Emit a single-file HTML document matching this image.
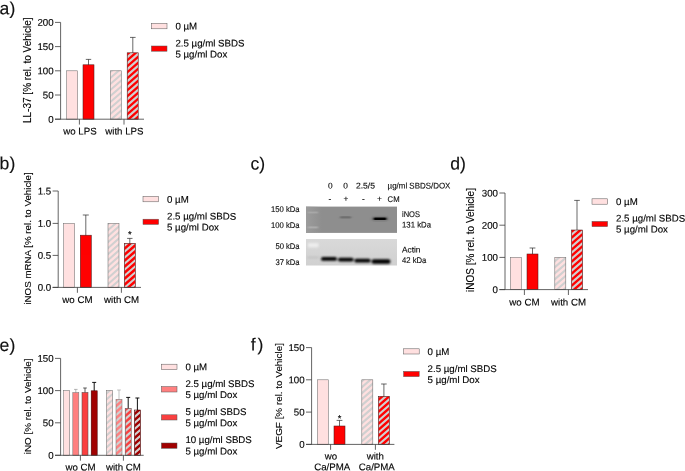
<!DOCTYPE html>
<html><head><meta charset="utf-8"><title>Figure</title>
<style>
html,body{margin:0;padding:0;background:#fff;}
body{width:685px;height:471px;overflow:hidden;}
svg{display:block;font-family:"Liberation Sans", Arial, sans-serif;fill:#000;}
svg text{white-space:pre;stroke:#000;stroke-width:0.14px;}
</style></head><body>
<svg style="opacity:0.999;will-change:transform" width="685" height="471" viewBox="0 0 685 471">
<defs>
<filter id="b1" x="-20%" y="-100%" width="140%" height="300%"><feGaussianBlur stdDeviation="0.9 0.6"/></filter>
<filter id="b2" x="-20%" y="-100%" width="140%" height="300%"><feGaussianBlur stdDeviation="1.0 0.8"/></filter>
<linearGradient id="gl" x1="0" y1="0" x2="1" y2="0"><stop offset="0" stop-color="#9c9c9c"/><stop offset="1" stop-color="#9c9c9c" stop-opacity="0"/></linearGradient>
<linearGradient id="g1" x1="0" y1="0" x2="0" y2="1"><stop offset="0" stop-color="#8d8d8d"/><stop offset="1" stop-color="#828282"/></linearGradient>
<linearGradient id="g2" x1="0" y1="0" x2="0" y2="1"><stop offset="0" stop-color="#d9d9d9"/><stop offset="1" stop-color="#d0d0d0"/></linearGradient>
</defs>
<text x="-0.40" y="14.20" transform="rotate(0.03 -0.40 14.20)" font-size="17.6" text-anchor="start" fill="#111">a)</text>
<text x="-0.40" y="169.20" transform="rotate(0.03 -0.40 169.20)" font-size="17.6" text-anchor="start" fill="#111">b)</text>
<text x="250.50" y="169.40" transform="rotate(0.03 250.50 169.40)" font-size="17.6" text-anchor="start" fill="#111">c)</text>
<text x="450.20" y="169.40" transform="rotate(0.03 450.20 169.40)" font-size="17.6" text-anchor="start" fill="#111">d)</text>
<text x="-0.40" y="351.00" transform="rotate(0.03 -0.40 351.00)" font-size="17.6" text-anchor="start" fill="#111">e)</text>
<text x="250.80" y="350.40" transform="rotate(0.03 250.80 350.40)" font-size="17.6" text-anchor="start" fill="#111">f<tspan dx="1.8">)</tspan></text>
<text x="53.60" y="25.85" transform="rotate(0.03 53.60 25.85)" font-size="9.7" text-anchor="end" >200</text>
<text x="53.60" y="50.05" transform="rotate(0.03 53.60 50.05)" font-size="9.7" text-anchor="end" >150</text>
<text x="53.60" y="74.25" transform="rotate(0.03 53.60 74.25)" font-size="9.7" text-anchor="end" >100</text>
<text x="53.60" y="98.45" transform="rotate(0.03 53.60 98.45)" font-size="9.7" text-anchor="end" >50</text>
<text x="53.60" y="122.65" transform="rotate(0.03 53.60 122.65)" font-size="9.7" text-anchor="end" >0</text>
<text transform="translate(30.70,123.00) rotate(-90)" font-size="10.0" >LL-37 [% rel. to Vehicle]</text>
<rect x="66.60" y="70.80" width="11.00" height="48.40" fill="#ffe0e0" stroke="#6e6e6e" stroke-width="0.55"/>
<path d="M88.50 65.00V59.40M85.80 59.40H91.20" stroke="#2a2a2a" stroke-width="0.7" fill="none"/>
<rect x="83.00" y="64.80" width="11.00" height="54.40" fill="#ff0000" stroke="#4a2020" stroke-width="0.55"/>
<clipPath id="c1"><rect x="110.40" y="70.80" width="11.00" height="48.40"/></clipPath>
<rect x="110.40" y="70.80" width="11.00" height="48.40" fill="#ffe0e0"/>
<path d="M109.40 60.82L122.40 49.51M109.40 66.82L122.40 55.51M109.40 72.82L122.40 61.51M109.40 78.82L122.40 67.51M109.40 84.82L122.40 73.51M109.40 90.82L122.40 79.51M109.40 96.82L122.40 85.51M109.40 102.82L122.40 91.51M109.40 108.82L122.40 97.51M109.40 114.82L122.40 103.51M109.40 120.82L122.40 109.51M109.40 126.82L122.40 115.51M109.40 132.82L122.40 121.51M109.40 138.82L122.40 127.51" stroke="#d0d0d0" stroke-width="2.1" fill="none" clip-path="url(#c1)"/>
<rect x="110.40" y="70.80" width="11.00" height="48.40" fill="none" stroke="#6e6e6e" stroke-width="0.55"/>
<path d="M132.80 53.00V37.40M130.00 37.40H135.60" stroke="#2a2a2a" stroke-width="0.7" fill="none"/>
<clipPath id="c2"><rect x="127.20" y="52.80" width="11.00" height="66.40"/></clipPath>
<rect x="127.20" y="52.80" width="11.00" height="66.40" fill="#ff0000"/>
<path d="M126.20 46.21L139.20 34.90M126.20 52.21L139.20 40.90M126.20 58.21L139.20 46.90M126.20 64.21L139.20 52.90M126.20 70.21L139.20 58.90M126.20 76.21L139.20 64.90M126.20 82.21L139.20 70.90M126.20 88.21L139.20 76.90M126.20 94.21L139.20 82.90M126.20 100.21L139.20 88.90M126.20 106.21L139.20 94.90M126.20 112.21L139.20 100.90M126.20 118.21L139.20 106.90M126.20 124.21L139.20 112.90M126.20 130.21L139.20 118.90M126.20 136.21L139.20 124.90M126.20 142.21L139.20 130.90" stroke="#d0d0d0" stroke-width="2.1" fill="none" clip-path="url(#c2)"/>
<rect x="127.20" y="52.80" width="11.00" height="66.40" fill="none" stroke="#4a2020" stroke-width="0.55"/>
<text x="80.00" y="134.60" transform="rotate(0.03 80.00 134.60)" font-size="9.7" text-anchor="middle" >wo LPS</text>
<text x="124.40" y="134.60" transform="rotate(0.03 124.40 134.60)" font-size="9.7" text-anchor="middle" >with LPS</text>
<rect x="151.40" y="23.40" width="15.60" height="5.40" fill="#ffe0e0" stroke="#555" stroke-width="0.5"/>
<text x="175.40" y="29.60" transform="rotate(0.03 175.40 29.60)" font-size="9.7" text-anchor="start" >0 µM</text>
<rect x="151.40" y="46.00" width="15.60" height="5.20" fill="#ff0000" stroke="#555" stroke-width="0.5"/>
<text x="175.40" y="46.40" transform="rotate(0.03 175.40 46.40)" font-size="9.7" text-anchor="start" >2.5 µg/ml SBDS</text>
<text x="175.40" y="57.40" transform="rotate(0.03 175.40 57.40)" font-size="9.7" text-anchor="start" >5 µg/ml Dox</text>
<text x="51.20" y="194.45" transform="rotate(0.03 51.20 194.45)" font-size="9.7" text-anchor="end" >1.5</text>
<text x="51.20" y="226.85" transform="rotate(0.03 51.20 226.85)" font-size="9.7" text-anchor="end" >1.0</text>
<text x="51.20" y="258.85" transform="rotate(0.03 51.20 258.85)" font-size="9.7" text-anchor="end" >0.5</text>
<text x="51.20" y="290.85" transform="rotate(0.03 51.20 290.85)" font-size="9.7" text-anchor="end" >0.0</text>
<text transform="translate(30.70,304.60) rotate(-90)" font-size="9.75" >iNOS mRNA [% rel. to Vehicle]</text>
<rect x="63.60" y="223.40" width="11.00" height="64.00" fill="#ffe0e0" stroke="#6e6e6e" stroke-width="0.55"/>
<path d="M85.80 236.00V215.00M82.80 215.00H88.80" stroke="#2a2a2a" stroke-width="0.7" fill="none"/>
<rect x="80.30" y="235.20" width="11.00" height="52.20" fill="#ff0000" stroke="#4a2020" stroke-width="0.55"/>
<clipPath id="c3"><rect x="108.00" y="223.40" width="11.00" height="64.00"/></clipPath>
<rect x="108.00" y="223.40" width="11.00" height="64.00" fill="#ffe0e0"/>
<path d="M107.00 212.91L120.00 201.60M107.00 218.91L120.00 207.60M107.00 224.91L120.00 213.60M107.00 230.91L120.00 219.60M107.00 236.91L120.00 225.60M107.00 242.91L120.00 231.60M107.00 248.91L120.00 237.60M107.00 254.91L120.00 243.60M107.00 260.91L120.00 249.60M107.00 266.91L120.00 255.60M107.00 272.91L120.00 261.60M107.00 278.91L120.00 267.60M107.00 284.91L120.00 273.60M107.00 290.91L120.00 279.60M107.00 296.91L120.00 285.60M107.00 302.91L120.00 291.60M107.00 308.91L120.00 297.60" stroke="#d0d0d0" stroke-width="2.1" fill="none" clip-path="url(#c3)"/>
<rect x="108.00" y="223.40" width="11.00" height="64.00" fill="none" stroke="#6e6e6e" stroke-width="0.55"/>
<path d="M129.80 244.00V238.40M127.10 238.40H132.50" stroke="#2a2a2a" stroke-width="0.7" fill="none"/>
<clipPath id="c4"><rect x="124.30" y="243.40" width="11.00" height="44.00"/></clipPath>
<rect x="124.30" y="243.40" width="11.00" height="44.00" fill="#ff0000"/>
<path d="M123.30 234.73L136.30 223.42M123.30 240.73L136.30 229.42M123.30 246.73L136.30 235.42M123.30 252.73L136.30 241.42M123.30 258.73L136.30 247.42M123.30 264.73L136.30 253.42M123.30 270.73L136.30 259.42M123.30 276.73L136.30 265.42M123.30 282.73L136.30 271.42M123.30 288.73L136.30 277.42M123.30 294.73L136.30 283.42M123.30 300.73L136.30 289.42M123.30 306.73L136.30 295.42" stroke="#d0d0d0" stroke-width="2.1" fill="none" clip-path="url(#c4)"/>
<rect x="124.30" y="243.40" width="11.00" height="44.00" fill="none" stroke="#4a2020" stroke-width="0.55"/>
<text x="129.80" y="237.60" transform="rotate(0.03 129.80 237.60)" font-size="9.3" text-anchor="middle" stroke="#000" stroke-width="0.3">*</text>
<text x="77.40" y="303.00" transform="rotate(0.03 77.40 303.00)" font-size="9.7" text-anchor="middle" >wo CM</text>
<text x="121.60" y="303.00" transform="rotate(0.03 121.60 303.00)" font-size="9.7" text-anchor="middle" >with CM</text>
<rect x="143.00" y="196.40" width="15.60" height="5.40" fill="#ffe0e0" stroke="#555" stroke-width="0.5"/>
<text x="167.00" y="202.80" transform="rotate(0.03 167.00 202.80)" font-size="9.7" text-anchor="start" >0 µM</text>
<rect x="143.00" y="219.20" width="15.60" height="5.20" fill="#ff0000" stroke="#555" stroke-width="0.5"/>
<text x="167.00" y="219.60" transform="rotate(0.03 167.00 219.60)" font-size="9.7" text-anchor="start" >2.5 µg/ml SBDS</text>
<text x="167.00" y="230.60" transform="rotate(0.03 167.00 230.60)" font-size="9.7" text-anchor="start" >5 µg/ml Dox</text>
<text x="328.00" y="188.60" transform="rotate(0.03 328.00 188.60)" font-size="8.3" text-anchor="start"  fill="#111" stroke="#111" stroke-width="0.18">0</text>
<text x="343.20" y="188.60" transform="rotate(0.03 343.20 188.60)" font-size="8.3" text-anchor="start"  fill="#111" stroke="#111" stroke-width="0.18">0</text>
<text x="356.00" y="188.60" transform="rotate(0.03 356.00 188.60)" font-size="8.3" text-anchor="start" textLength="19" lengthAdjust="spacingAndGlyphs" fill="#111" stroke="#111" stroke-width="0.18">2.5/5</text>
<text x="387.60" y="188.60" transform="rotate(0.03 387.60 188.60)" font-size="8.3" text-anchor="start" textLength="62.8" lengthAdjust="spacingAndGlyphs" fill="#111" stroke="#111" stroke-width="0.18">µg/ml SBDS/DOX</text>
<text x="328.40" y="201.60" transform="rotate(0.03 328.40 201.60)" font-size="8.3" text-anchor="start"  fill="#111" stroke="#111" stroke-width="0.18">-</text>
<text x="343.40" y="201.60" transform="rotate(0.03 343.40 201.60)" font-size="8.3" text-anchor="start"  fill="#111" stroke="#111" stroke-width="0.18">+</text>
<text x="362.00" y="201.60" transform="rotate(0.03 362.00 201.60)" font-size="8.3" text-anchor="start"  fill="#111" stroke="#111" stroke-width="0.18">-</text>
<text x="377.00" y="201.60" transform="rotate(0.03 377.00 201.60)" font-size="8.3" text-anchor="start"  fill="#111" stroke="#111" stroke-width="0.18">+</text>
<text x="387.60" y="201.60" transform="rotate(0.03 387.60 201.60)" font-size="8.3" text-anchor="start" textLength="12" lengthAdjust="spacingAndGlyphs" fill="#111" stroke="#111" stroke-width="0.18">CM</text>
<text x="299.60" y="212.00" transform="rotate(0.03 299.60 212.00)" font-size="8.3" text-anchor="end" textLength="28.6" lengthAdjust="spacingAndGlyphs" fill="#111" stroke="#111" stroke-width="0.18">150 kDa</text>
<text x="299.60" y="227.60" transform="rotate(0.03 299.60 227.60)" font-size="8.3" text-anchor="end" textLength="28.6" lengthAdjust="spacingAndGlyphs" fill="#111" stroke="#111" stroke-width="0.18">100 kDa</text>
<text x="299.60" y="248.60" transform="rotate(0.03 299.60 248.60)" font-size="8.3" text-anchor="end" textLength="24.2" lengthAdjust="spacingAndGlyphs" fill="#111" stroke="#111" stroke-width="0.18">50 kDa</text>
<text x="299.60" y="265.00" transform="rotate(0.03 299.60 265.00)" font-size="8.3" text-anchor="end" textLength="24.2" lengthAdjust="spacingAndGlyphs" fill="#111" stroke="#111" stroke-width="0.18">37 kDa</text>
<text x="402.00" y="217.00" transform="rotate(0.03 402.00 217.00)" font-size="8.3" text-anchor="start" textLength="18" lengthAdjust="spacingAndGlyphs" fill="#111" stroke="#111" stroke-width="0.18">iNOS</text>
<text x="402.00" y="227.60" transform="rotate(0.03 402.00 227.60)" font-size="8.3" text-anchor="start" textLength="29" lengthAdjust="spacingAndGlyphs" fill="#111" stroke="#111" stroke-width="0.18">131 kDa</text>
<text x="402.00" y="252.60" transform="rotate(0.03 402.00 252.60)" font-size="8.3" text-anchor="start" textLength="18.4" lengthAdjust="spacingAndGlyphs" fill="#111" stroke="#111" stroke-width="0.18">Actin</text>
<text x="402.00" y="262.60" transform="rotate(0.03 402.00 262.60)" font-size="8.3" text-anchor="start" textLength="24.4" lengthAdjust="spacingAndGlyphs" fill="#111" stroke="#111" stroke-width="0.18">42 kDa</text>
<rect x="306" y="206.6" width="91" height="26.3" fill="#8e8e8e"/>
<rect x="306" y="206.6" width="16" height="26.3" fill="url(#gl)"/>
<g filter="url(#b1)">
<rect x="308" y="211.6" width="10" height="1.8" fill="#b4b4b4" opacity="0.6"/>
<rect x="308" y="226.4" width="10" height="2" fill="#b8b8b8" opacity="0.65"/>
<rect x="339.8" y="216.3" width="11.6" height="2.2" rx="1.1" fill="#5a5a5a" opacity="0.6"/>
<rect x="371.5" y="215.8" width="17" height="6" rx="3" fill="#666" opacity="0.35"/>
<rect x="373.2" y="217.5" width="13.6" height="2.4" rx="1.2" fill="#050505"/>
</g>
<rect x="306" y="239" width="91" height="26.5" fill="url(#g2)"/>
<g filter="url(#b2)">
<rect x="308" y="243" width="10.5" height="4.4" fill="#f0f0f0" opacity="0.9"/>
<rect x="307" y="257" width="12" height="0.9" fill="#8a8a8a" opacity="0.45"/>
<rect x="321" y="257" width="16" height="3.8" rx="1.9" fill="#030303"/>
<rect x="338" y="257.7" width="15.6" height="3.8" rx="1.9" fill="#030303"/>
<rect x="354.4" y="258.8" width="16.2" height="3.8" rx="1.9" fill="#030303"/>
<rect x="371.5" y="259.2" width="19" height="4.6" rx="2.3" fill="#000"/>
</g>
<text x="498.00" y="196.45" transform="rotate(0.03 498.00 196.45)" font-size="9.7" text-anchor="end" >300</text>
<text x="498.00" y="228.65" transform="rotate(0.03 498.00 228.65)" font-size="9.7" text-anchor="end" >200</text>
<text x="498.00" y="260.85" transform="rotate(0.03 498.00 260.85)" font-size="9.7" text-anchor="end" >100</text>
<text x="498.00" y="293.05" transform="rotate(0.03 498.00 293.05)" font-size="9.7" text-anchor="end" >0</text>
<text transform="translate(474.20,292.00) rotate(-90)" font-size="10.0" >iNOS [% rel. to Vehicle]</text>
<rect x="510.40" y="257.40" width="11.00" height="32.20" fill="#ffe0e0" stroke="#6e6e6e" stroke-width="0.55"/>
<path d="M532.50 255.00V248.00M529.60 248.00H535.40" stroke="#2a2a2a" stroke-width="0.7" fill="none"/>
<rect x="527.00" y="254.00" width="11.00" height="35.60" fill="#ff0000" stroke="#4a2020" stroke-width="0.55"/>
<clipPath id="c5"><rect x="554.80" y="257.40" width="11.00" height="32.20"/></clipPath>
<rect x="554.80" y="257.40" width="11.00" height="32.20" fill="#ffe0e0"/>
<path d="M553.80 250.19L566.80 238.88M553.80 256.19L566.80 244.88M553.80 262.19L566.80 250.88M553.80 268.19L566.80 256.88M553.80 274.19L566.80 262.88M553.80 280.19L566.80 268.88M553.80 286.19L566.80 274.88M553.80 292.19L566.80 280.88M553.80 298.19L566.80 286.88M553.80 304.19L566.80 292.88M553.80 310.19L566.80 298.88" stroke="#d0d0d0" stroke-width="2.1" fill="none" clip-path="url(#c5)"/>
<rect x="554.80" y="257.40" width="11.00" height="32.20" fill="none" stroke="#6e6e6e" stroke-width="0.55"/>
<path d="M577.00 231.00V200.40M574.20 200.40H579.80" stroke="#2a2a2a" stroke-width="0.7" fill="none"/>
<clipPath id="c6"><rect x="571.50" y="230.00" width="11.00" height="59.60"/></clipPath>
<rect x="571.50" y="230.00" width="11.00" height="59.60" fill="#ff0000"/>
<path d="M570.50 223.67L583.50 212.36M570.50 229.67L583.50 218.36M570.50 235.67L583.50 224.36M570.50 241.67L583.50 230.36M570.50 247.67L583.50 236.36M570.50 253.67L583.50 242.36M570.50 259.67L583.50 248.36M570.50 265.67L583.50 254.36M570.50 271.67L583.50 260.36M570.50 277.67L583.50 266.36M570.50 283.67L583.50 272.36M570.50 289.67L583.50 278.36M570.50 295.67L583.50 284.36M570.50 301.67L583.50 290.36M570.50 307.67L583.50 296.36" stroke="#d0d0d0" stroke-width="2.1" fill="none" clip-path="url(#c6)"/>
<rect x="571.50" y="230.00" width="11.00" height="59.60" fill="none" stroke="#4a2020" stroke-width="0.55"/>
<text x="524.40" y="305.40" transform="rotate(0.03 524.40 305.40)" font-size="9.7" text-anchor="middle" >wo CM</text>
<text x="568.50" y="305.40" transform="rotate(0.03 568.50 305.40)" font-size="9.7" text-anchor="middle" >with CM</text>
<rect x="592.00" y="198.80" width="15.60" height="5.40" fill="#ffe0e0" stroke="#555" stroke-width="0.5"/>
<text x="616.00" y="205.00" transform="rotate(0.03 616.00 205.00)" font-size="9.7" text-anchor="start" >0 µM</text>
<rect x="592.00" y="221.40" width="15.60" height="5.20" fill="#ff0000" stroke="#555" stroke-width="0.5"/>
<text x="616.00" y="221.60" transform="rotate(0.03 616.00 221.60)" font-size="9.7" text-anchor="start" >2.5 µg/ml SBDS</text>
<text x="616.00" y="232.60" transform="rotate(0.03 616.00 232.60)" font-size="9.7" text-anchor="start" >5 µg/ml Dox</text>
<text x="53.60" y="361.85" transform="rotate(0.03 53.60 361.85)" font-size="9.7" text-anchor="end" >150</text>
<text x="53.60" y="394.05" transform="rotate(0.03 53.60 394.05)" font-size="9.7" text-anchor="end" >100</text>
<text x="53.60" y="426.25" transform="rotate(0.03 53.60 426.25)" font-size="9.7" text-anchor="end" >50</text>
<text x="53.60" y="458.75" transform="rotate(0.03 53.60 458.75)" font-size="9.7" text-anchor="end" >0</text>
<text transform="translate(30.70,454.20) rotate(-90)" font-size="9.85" >iNO [% rel. to Vehicle]</text>
<rect x="63.60" y="390.60" width="6.00" height="64.70" fill="#ffe0e0" stroke="#6e6e6e" stroke-width="0.55"/>
<path d="M75.80 393.00V389.40M74.00 389.40H77.60" stroke="#888" stroke-width="0.6" fill="none"/>
<rect x="72.80" y="392.60" width="6.00" height="62.70" fill="#ff8080" stroke="#777" stroke-width="0.55"/>
<path d="M85.00 393.00V388.00M83.20 388.00H86.80" stroke="#333" stroke-width="0.8" fill="none"/>
<rect x="82.00" y="392.40" width="6.00" height="62.90" fill="#fa4040" stroke="#555" stroke-width="0.55"/>
<path d="M94.20 391.00V382.40M92.20 382.40H96.20" stroke="#111" stroke-width="1.0" fill="none"/>
<rect x="91.20" y="390.80" width="6.00" height="64.50" fill="#a00000" stroke="#400" stroke-width="0.55"/>
<clipPath id="c7"><rect x="106.60" y="390.60" width="6.00" height="64.70"/></clipPath>
<rect x="106.60" y="390.60" width="6.00" height="64.70" fill="#ffe0e0"/>
<path d="M105.60 382.13L113.60 375.17M105.60 388.13L113.60 381.17M105.60 394.13L113.60 387.17M105.60 400.13L113.60 393.17M105.60 406.13L113.60 399.17M105.60 412.13L113.60 405.17M105.60 418.13L113.60 411.17M105.60 424.13L113.60 417.17M105.60 430.13L113.60 423.17M105.60 436.13L113.60 429.17M105.60 442.13L113.60 435.17M105.60 448.13L113.60 441.17M105.60 454.13L113.60 447.17M105.60 460.13L113.60 453.17M105.60 466.13L113.60 459.17M105.60 472.13L113.60 465.17" stroke="#d0d0d0" stroke-width="2.1" fill="none" clip-path="url(#c7)"/>
<rect x="106.60" y="390.60" width="6.00" height="64.70" fill="none" stroke="#6e6e6e" stroke-width="0.55"/>
<path d="M119.00 400.00V390.00M117.10 390.00H120.90" stroke="#a8a8a8" stroke-width="0.7" fill="none"/>
<clipPath id="c8"><rect x="116.00" y="399.40" width="6.00" height="55.90"/></clipPath>
<rect x="116.00" y="399.40" width="6.00" height="55.90" fill="#ff8080"/>
<path d="M115.00 391.95L123.00 384.99M115.00 397.95L123.00 390.99M115.00 403.95L123.00 396.99M115.00 409.95L123.00 402.99M115.00 415.95L123.00 408.99M115.00 421.95L123.00 414.99M115.00 427.95L123.00 420.99M115.00 433.95L123.00 426.99M115.00 439.95L123.00 432.99M115.00 445.95L123.00 438.99M115.00 451.95L123.00 444.99M115.00 457.95L123.00 450.99M115.00 463.95L123.00 456.99M115.00 469.95L123.00 462.99" stroke="#d0d0d0" stroke-width="2.1" fill="none" clip-path="url(#c8)"/>
<rect x="116.00" y="399.40" width="6.00" height="55.90" fill="none" stroke="#777" stroke-width="0.55"/>
<path d="M128.20 409.00V397.40M126.20 397.40H130.20" stroke="#111" stroke-width="1.0" fill="none"/>
<clipPath id="c9"><rect x="125.20" y="408.40" width="6.00" height="46.90"/></clipPath>
<rect x="125.20" y="408.40" width="6.00" height="46.90" fill="#fa4040"/>
<path d="M124.20 401.95L132.20 394.99M124.20 407.95L132.20 400.99M124.20 413.95L132.20 406.99M124.20 419.95L132.20 412.99M124.20 425.95L132.20 418.99M124.20 431.95L132.20 424.99M124.20 437.95L132.20 430.99M124.20 443.95L132.20 436.99M124.20 449.95L132.20 442.99M124.20 455.95L132.20 448.99M124.20 461.95L132.20 454.99M124.20 467.95L132.20 460.99M124.20 473.95L132.20 466.99" stroke="#d0d0d0" stroke-width="2.1" fill="none" clip-path="url(#c9)"/>
<rect x="125.20" y="408.40" width="6.00" height="46.90" fill="none" stroke="#555" stroke-width="0.55"/>
<path d="M137.40 411.00V398.00M135.40 398.00H139.40" stroke="#111" stroke-width="1.0" fill="none"/>
<clipPath id="c10"><rect x="134.40" y="410.00" width="6.00" height="45.30"/></clipPath>
<rect x="134.40" y="410.00" width="6.00" height="45.30" fill="#a00000"/>
<path d="M133.40 399.94L141.40 392.98M133.40 405.94L141.40 398.98M133.40 411.94L141.40 404.98M133.40 417.94L141.40 410.98M133.40 423.94L141.40 416.98M133.40 429.94L141.40 422.98M133.40 435.94L141.40 428.98M133.40 441.94L141.40 434.98M133.40 447.94L141.40 440.98M133.40 453.94L141.40 446.98M133.40 459.94L141.40 452.98M133.40 465.94L141.40 458.98M133.40 471.94L141.40 464.98" stroke="#d0d0d0" stroke-width="2.1" fill="none" clip-path="url(#c10)"/>
<rect x="134.40" y="410.00" width="6.00" height="45.30" fill="none" stroke="#400" stroke-width="0.55"/>
<text x="80.60" y="470.60" transform="rotate(0.03 80.60 470.60)" font-size="9.7" text-anchor="middle" >wo CM</text>
<text x="123.40" y="470.60" transform="rotate(0.03 123.40 470.60)" font-size="9.7" text-anchor="middle" >with CM</text>
<rect x="161.40" y="364.20" width="15.60" height="5.40" fill="#ffe0e0" stroke="#555" stroke-width="0.5"/>
<text x="185.40" y="370.20" transform="rotate(0.03 185.40 370.20)" font-size="9.7" text-anchor="start" >0 µM</text>
<rect x="161.40" y="386.60" width="15.60" height="5.40" fill="#ff8080" stroke="#555" stroke-width="0.5"/>
<text x="185.40" y="387.00" transform="rotate(0.03 185.40 387.00)" font-size="9.7" text-anchor="start" >2.5 µg/ml SBDS</text>
<text x="185.40" y="398.00" transform="rotate(0.03 185.40 398.00)" font-size="9.7" text-anchor="start" >5 µg/ml Dox</text>
<rect x="161.40" y="414.80" width="15.60" height="5.20" fill="#fa4040" stroke="#555" stroke-width="0.5"/>
<text x="185.40" y="415.00" transform="rotate(0.03 185.40 415.00)" font-size="9.7" text-anchor="start" >5 µg/ml SBDS</text>
<text x="185.40" y="426.20" transform="rotate(0.03 185.40 426.20)" font-size="9.7" text-anchor="start" >5 µg/ml Dox</text>
<rect x="161.40" y="443.00" width="15.60" height="5.30" fill="#a00000" stroke="#555" stroke-width="0.5"/>
<text x="185.40" y="443.00" transform="rotate(0.03 185.40 443.00)" font-size="9.7" text-anchor="start" >10 µg/ml SBDS</text>
<text x="185.40" y="454.40" transform="rotate(0.03 185.40 454.40)" font-size="9.7" text-anchor="start" >5 µg/ml Dox</text>
<text x="304.60" y="351.05" transform="rotate(0.03 304.60 351.05)" font-size="9.7" text-anchor="end" >150</text>
<text x="304.60" y="383.25" transform="rotate(0.03 304.60 383.25)" font-size="9.7" text-anchor="end" >100</text>
<text x="304.60" y="415.55" transform="rotate(0.03 304.60 415.55)" font-size="9.7" text-anchor="end" >50</text>
<text x="304.60" y="447.85" transform="rotate(0.03 304.60 447.85)" font-size="9.7" text-anchor="end" >0</text>
<text transform="translate(281.70,449.00) rotate(-90)" font-size="9.9" >VEGF [% rel. to Vehicle]</text>
<rect x="317.40" y="379.80" width="11.00" height="64.60" fill="#ffe0e0" stroke="#6e6e6e" stroke-width="0.55"/>
<path d="M339.50 427.00V420.40M336.60 420.40H342.40" stroke="#2a2a2a" stroke-width="0.7" fill="none"/>
<rect x="334.00" y="426.00" width="11.00" height="18.40" fill="#ff0000" stroke="#4a2020" stroke-width="0.55"/>
<text x="339.50" y="421.40" transform="rotate(0.03 339.50 421.40)" font-size="9.3" text-anchor="middle" stroke="#000" stroke-width="0.3">*</text>
<clipPath id="c11"><rect x="361.80" y="379.80" width="11.00" height="64.60"/></clipPath>
<rect x="361.80" y="379.80" width="11.00" height="64.60" fill="#ffe0e0"/>
<path d="M360.80 370.10L373.80 358.79M360.80 376.10L373.80 364.79M360.80 382.10L373.80 370.79M360.80 388.10L373.80 376.79M360.80 394.10L373.80 382.79M360.80 400.10L373.80 388.79M360.80 406.10L373.80 394.79M360.80 412.10L373.80 400.79M360.80 418.10L373.80 406.79M360.80 424.10L373.80 412.79M360.80 430.10L373.80 418.79M360.80 436.10L373.80 424.79M360.80 442.10L373.80 430.79M360.80 448.10L373.80 436.79M360.80 454.10L373.80 442.79M360.80 460.10L373.80 448.79M360.80 466.10L373.80 454.79" stroke="#d0d0d0" stroke-width="2.1" fill="none" clip-path="url(#c11)"/>
<rect x="361.80" y="379.80" width="11.00" height="64.60" fill="none" stroke="#6e6e6e" stroke-width="0.55"/>
<path d="M383.90 397.00V384.00M381.10 384.00H386.70" stroke="#2a2a2a" stroke-width="0.7" fill="none"/>
<clipPath id="c12"><rect x="378.40" y="396.30" width="11.00" height="48.10"/></clipPath>
<rect x="378.40" y="396.30" width="11.00" height="48.10" fill="#ff0000"/>
<path d="M377.40 385.66L390.40 374.35M377.40 391.66L390.40 380.35M377.40 397.66L390.40 386.35M377.40 403.66L390.40 392.35M377.40 409.66L390.40 398.35M377.40 415.66L390.40 404.35M377.40 421.66L390.40 410.35M377.40 427.66L390.40 416.35M377.40 433.66L390.40 422.35M377.40 439.66L390.40 428.35M377.40 445.66L390.40 434.35M377.40 451.66L390.40 440.35M377.40 457.66L390.40 446.35M377.40 463.66L390.40 452.35" stroke="#d0d0d0" stroke-width="2.1" fill="none" clip-path="url(#c12)"/>
<rect x="378.40" y="396.30" width="11.00" height="48.10" fill="none" stroke="#4a2020" stroke-width="0.55"/>
<text x="331.00" y="459.40" transform="rotate(0.03 331.00 459.40)" font-size="9.7" text-anchor="middle" >wo</text>
<text x="332.20" y="470.20" transform="rotate(0.03 332.20 470.20)" font-size="9.7" text-anchor="middle" >Ca/PMA</text>
<text x="375.30" y="459.40" transform="rotate(0.03 375.30 459.40)" font-size="9.7" text-anchor="middle" >with</text>
<text x="376.80" y="470.20" transform="rotate(0.03 376.80 470.20)" font-size="9.7" text-anchor="middle" >Ca/PMA</text>
<rect x="403.60" y="348.80" width="15.60" height="5.20" fill="#ffe0e0" stroke="#555" stroke-width="0.5"/>
<text x="427.60" y="355.00" transform="rotate(0.03 427.60 355.00)" font-size="9.7" text-anchor="start" >0 µM</text>
<rect x="403.60" y="371.40" width="15.60" height="5.20" fill="#ff0000" stroke="#555" stroke-width="0.5"/>
<text x="427.60" y="372.00" transform="rotate(0.03 427.60 372.00)" font-size="9.7" text-anchor="start" >2.5 µg/ml SBDS</text>
<text x="427.60" y="383.00" transform="rotate(0.03 427.60 383.00)" font-size="9.7" text-anchor="start" >5 µg/ml Dox</text>
<path d="M60.60 22.40V119.20M55.00 119.20H144.00M55.00 22.40H60.60M55.00 46.60H60.60M55.00 70.80H60.60M55.00 95.00H60.60M55.00 119.20H60.60M79.40 119.20V124.60M124.00 119.20V124.60" stroke="#3c3c3c" stroke-width="0.8" fill="none"/>
<path d="M58.20 191.00V287.40M52.60 287.40H141.00M52.60 191.00H58.20M52.60 223.40H58.20M52.60 255.40H58.20M52.60 287.40H58.20M77.40 287.40V292.80M121.40 287.40V292.80" stroke="#3c3c3c" stroke-width="0.8" fill="none"/>
<path d="M505.00 193.00V289.60M499.40 289.60H588.00M499.40 193.00H505.00M499.40 225.20H505.00M499.40 257.40H505.00M499.40 289.60H505.00M524.40 289.60V295.00M568.40 289.60V295.00" stroke="#3c3c3c" stroke-width="0.8" fill="none"/>
<path d="M60.60 358.40V455.30M55.00 455.30H143.70M55.00 358.40H60.60M55.00 390.60H60.60M55.00 422.80H60.60M55.00 455.30H60.60M80.40 455.30V460.70M123.40 455.30V460.70" stroke="#3c3c3c" stroke-width="0.8" fill="none"/>
<path d="M311.60 347.60V444.40M306.00 444.40H394.40M306.00 347.60H311.60M306.00 379.80H311.60M306.00 412.10H311.60M306.00 444.40H311.60M330.60 444.40V449.80M375.40 444.40V449.80" stroke="#3c3c3c" stroke-width="0.8" fill="none"/>
</svg>
</body></html>
